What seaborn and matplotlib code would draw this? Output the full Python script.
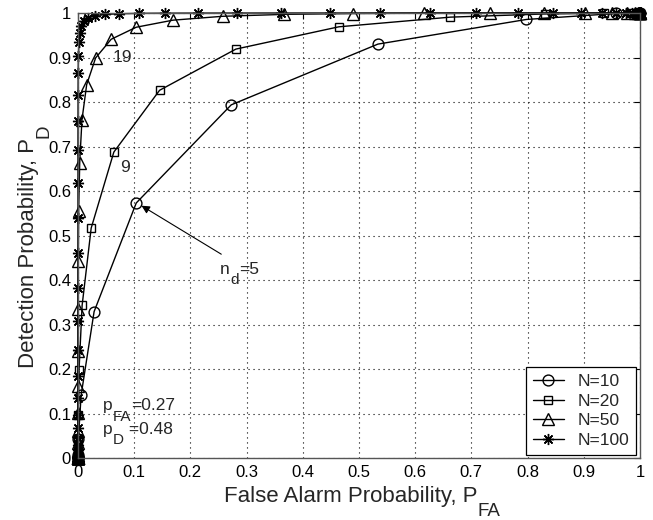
import matplotlib
matplotlib.use("Agg")
import matplotlib.pyplot as plt
import seaborn as sns
import pandas as pd

# ---- data: one point per detection threshold n_d = 0..N ----
pfa_n10 = [1.0, 0.9570, 0.7980, 0.5337, 0.2727, 0.1037, 0.0287, 0.0056, 0.0007, 0.0001, 0.0]
pd_n10 = [1.0, 0.9989, 0.9855, 0.9301, 0.7936, 0.5731, 0.3289, 0.1411, 0.0420, 0.0077, 0.0006]

pfa_n20 = [1.0, 0.9982, 0.9845, 0.9365, 0.8302, 0.6626, 0.4643, 0.2810, 0.1452, 0.0638, 0.0235,
           0.0074, 0.0019, 0.0004, 0.0001, 0.0, 0.0, 0.0, 0.0, 0.0, 0.0]
pd_n20 = [1.0, 1.0, 1.0, 0.9996, 0.9978, 0.9907, 0.9690, 0.9189, 0.8263, 0.6874, 0.5166,
          0.3431, 0.1978, 0.0970, 0.0397, 0.0133, 0.0035, 0.0007, 0.0001, 0.0, 0.0]

pfa_n50 = [1.0, 1.0, 1.0, 1.0, 0.9998, 0.9992, 0.9971, 0.9911, 0.9772, 0.9497, 0.9021,
           0.8299, 0.7329, 0.6162, 0.4902, 0.3669, 0.2575, 0.1690, 0.1035, 0.0591, 0.0314,
           0.0155, 0.0071, 0.0031, 0.0012, 0.0005, 0.0002, 0.0001, 0.0, 0.0, 0.0,
           0.0, 0.0, 0.0, 0.0, 0.0, 0.0, 0.0, 0.0, 0.0, 0.0,
           0.0, 0.0, 0.0, 0.0, 0.0, 0.0, 0.0, 0.0, 0.0, 0.0]
pd_n50 = [1.0, 1.0, 1.0, 1.0, 1.0, 1.0, 1.0, 1.0, 1.0, 1.0, 1.0,
          1.0, 0.9999, 0.9996, 0.9988, 0.9969, 0.9926, 0.9839, 0.9680, 0.9410, 0.8991,
          0.8391, 0.7599, 0.6636, 0.5555, 0.4431, 0.3352, 0.2395, 0.1609, 0.1014, 0.0596,
          0.0327, 0.0166, 0.0078, 0.0034, 0.0014, 0.0005, 0.0002, 0.0001, 0.0, 0.0,
          0.0, 0.0, 0.0, 0.0, 0.0, 0.0, 0.0, 0.0, 0.0, 0.0]

pfa_n100 = [1.0, 1.0, 1.0, 1.0, 1.0, 1.0, 1.0, 1.0, 1.0, 1.0,
            1.0, 1.0, 0.9999, 0.9998, 0.9994, 0.9986, 0.9967, 0.9932, 0.9867, 0.9757,
            0.9580, 0.9316, 0.8943, 0.8448, 0.7828, 0.7091, 0.6262, 0.5380, 0.4484, 0.3621,
            0.2828, 0.2134, 0.1554, 0.1091, 0.0739, 0.0482, 0.0303, 0.0183, 0.0107, 0.0060,
            0.0032, 0.0017, 0.0008, 0.0004, 0.0002, 0.0001, 0.0, 0.0, 0.0, 0.0,
            0.0, 0.0, 0.0, 0.0, 0.0, 0.0, 0.0, 0.0, 0.0, 0.0,
            0.0, 0.0, 0.0, 0.0, 0.0, 0.0, 0.0, 0.0, 0.0, 0.0,
            0.0, 0.0, 0.0, 0.0, 0.0, 0.0, 0.0, 0.0, 0.0, 0.0,
            0.0, 0.0, 0.0, 0.0, 0.0, 0.0, 0.0, 0.0, 0.0, 0.0,
            0.0, 0.0, 0.0, 0.0, 0.0, 0.0, 0.0, 0.0, 0.0, 0.0, 0.0]
pd_n100 = [1.0, 1.0, 1.0, 1.0, 1.0, 1.0, 1.0, 1.0, 1.0, 1.0,
           1.0, 1.0, 1.0, 1.0, 1.0, 1.0, 1.0, 1.0, 1.0, 1.0,
           1.0, 1.0, 1.0, 1.0, 1.0, 1.0, 1.0, 1.0, 1.0, 1.0,
           0.9999, 0.9998, 0.9996, 0.9992, 0.9983, 0.9968, 0.9941, 0.9897, 0.9827, 0.9719,
           0.9561, 0.9338, 0.9037, 0.8646, 0.8160, 0.7579, 0.6912, 0.6175, 0.5393, 0.4596,
           0.3816, 0.3081, 0.2417, 0.1838, 0.1355, 0.0967, 0.0667, 0.0444, 0.0286, 0.0177,
           0.0106, 0.0061, 0.0034, 0.0018, 0.0009, 0.0005, 0.0002, 0.0001, 0.0, 0.0,
           0.0, 0.0, 0.0, 0.0, 0.0, 0.0, 0.0, 0.0, 0.0, 0.0,
           0.0, 0.0, 0.0, 0.0, 0.0, 0.0, 0.0, 0.0, 0.0, 0.0,
           0.0, 0.0, 0.0, 0.0, 0.0, 0.0, 0.0, 0.0, 0.0, 0.0, 0.0]

series_labels = ["N=10", "N=20", "N=50", "N=100"]
x_ticks = [0, 0.1, 0.2, 0.3, 0.4, 0.5, 0.6, 0.7, 0.8, 0.9, 1]
x_tick_labels = ["0", "0.1", "0.2", "0.3", "0.4", "0.5", "0.6", "0.7", "0.8", "0.9", "1"]
y_ticks = x_ticks
y_tick_labels = x_tick_labels

# ---- style ----
sns.set_theme(style="white")
plt.rcParams["font.family"] = ["Liberation Sans", "DejaVu Sans"]

fig = plt.figure(figsize=(6.53, 5.2), dpi=100)
ax = fig.add_axes([0.1194, 0.1192, 0.8606, 0.8558])

pfa_all = [pfa_n10, pfa_n20, pfa_n50, pfa_n100]
pd_all = [pd_n10, pd_n20, pd_n50, pd_n100]
markers = ["o", "s", "^", (8, 2, 0)]
msizes = [7.8, 6.2, 8.8, 8.0]

for lab, xs, ys, mk, ms in zip(series_labels, pfa_all, pd_all, markers, msizes):
    df = pd.DataFrame({"PFA": xs, "PD": ys})
    sns.lineplot(data=df, x="PFA", y="PD", sort=False, estimator=None, ax=ax,
                 color="black", linewidth=1.0, marker=mk, markersize=ms,
                 markerfacecolor="none", markeredgecolor="black",
                 markeredgewidth=1.0, label=lab, legend=False, clip_on=False)

ax.set_xlim(0, 1)
ax.set_ylim(0, 1)
ax.set_xticks(x_ticks)
ax.set_xticklabels(x_tick_labels)
ax.set_yticks(y_ticks)
ax.set_yticklabels(y_tick_labels)
ax.tick_params(direction="in", length=4, width=0.8, top=True, right=True,
               labelsize=12, colors="black", pad=5)
ax.grid(True, color="black", linestyle=(0, (1, 3.5)), linewidth=0.8)
for s in ax.spines.values():
    s.set_color("#555555")
    s.set_linewidth(1.0)

LABEL_FS = 16
SUB_LABEL_FS = 13.5
xl = ax.set_xlabel("False Alarm Probability, P", fontsize=LABEL_FS)
yl = ax.set_ylabel("Detection Probability, P", fontsize=LABEL_FS)
ax.xaxis.set_label_coords(0.485, -0.062)
ax.yaxis.set_label_coords(-0.070, 0.46)

# subscripts of the axis labels (MATLAB-style, large and low)
ax.annotate("FA", xy=(1, 0), xycoords=xl, xytext=(0.3, 2.6), textcoords="offset points",
            ha="left", va="top", fontsize=SUB_LABEL_FS)
ax.annotate("D", xy=(1, 1), xycoords=yl, xytext=(-2.6, 0.3), textcoords="offset points",
            ha="left", va="bottom", rotation=90, fontsize=SUB_LABEL_FS)

# annotations
TXT_FS = 12.5
SUB_FS = 11
ax.text(0.062, 0.900, "19", fontsize=TXT_FS, va="center", ha="left")
ax.text(0.075, 0.652, "9", fontsize=TXT_FS, va="center", ha="left")


def sub_text(x, y, base, sub, rest):
    t0 = ax.text(x, y, base, fontsize=TXT_FS, va="baseline", ha="left")
    t1 = ax.annotate(sub, xy=(1, 0), xycoords=t0, xytext=(0.2, 2.4),
                     textcoords="offset points", ha="left", va="top", fontsize=SUB_FS)
    ax.annotate(rest, xy=(1, 0), xycoords=(t1, t0), xytext=(0.2, 0),
                textcoords="offset points", ha="left", va="bottom", fontsize=TXT_FS)


sub_text(0.253, 0.414, "n", "d", "=5")
ax.annotate("", xy=(0.113, 0.567), xytext=(0.255, 0.458),
            arrowprops=dict(arrowstyle="-|>", color="black", lw=0.8,
                            mutation_scale=12, shrinkA=0, shrinkB=0))
sub_text(0.044, 0.108, "p", "FA", "=0.27")
sub_text(0.044, 0.055, "p", "D", " =0.48")

leg = ax.legend(loc="lower right", fontsize=12.5, frameon=True, fancybox=False,
                edgecolor="black", framealpha=1, handlelength=1.8,
                borderaxespad=0.2, labelspacing=0.25, handletextpad=0.8,
                borderpad=0.4)
leg.get_frame().set_linewidth(0.9)

fig.savefig("out.png", dpi=100)
